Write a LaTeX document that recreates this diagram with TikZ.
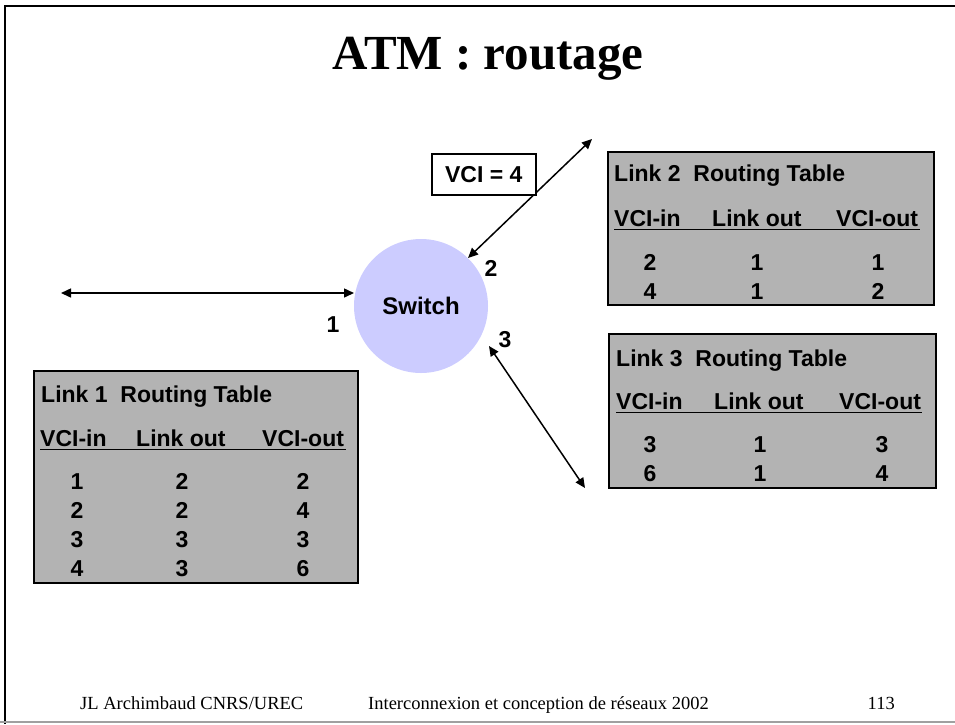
\documentclass[tikz,border=0pt]{standalone}
\usepackage{fontspec}
\setmainfont{Liberation Serif}
\setsansfont{Liberation Sans}
\usetikzlibrary{arrows.meta}
\definecolor{tgray}{HTML}{B3B3B3}
\definecolor{swc}{HTML}{CCCCFF}
\definecolor{footline}{HTML}{A0A0A0}
\begin{document}
\begin{tikzpicture}[x=1pt,y=-1pt,
  tbl/.style={draw=black, line width=1.6pt, fill=tgray, inner sep=0pt, anchor=north west},
  txt/.style={font=\sffamily\bfseries\fontsize{23}{27}\selectfont, inner sep=0pt},
  lbl/.style={txt, anchor=center},
  hd/.style={txt, anchor=base west},
  cell/.style={txt, anchor=base},
  uline/.style={line width=1.6pt},
  link/.style={line width=1.5pt, {Triangle[length=10pt,width=9pt]}-{Triangle[length=10pt,width=9pt]}},
  foot/.style={font=\rmfamily\fontsize{18.5}{22}\selectfont, inner sep=0pt, anchor=base}
]
\useasboundingbox (0,0) rectangle (955,724);
% slide frame
\draw[line width=2pt] (955,6) -- (5,6) -- (5,724);
\draw[line width=2pt, footline] (0,722) -- (955,722);

% title
\node[font=\rmfamily\bfseries\fontsize{49}{56}\selectfont, inner sep=0pt, anchor=base] (title) at (488,69) {ATM : routage};

% switch
\node[circle, fill=swc, minimum size=134pt, inner sep=0pt, font=\sffamily\bfseries\fontsize{24}{28}\selectfont] (sw) at (421,306) {Switch};

% links
\coordinate (l1a) at (61,293);
\coordinate (l1b) at (354,293);
\draw[link] (l1a) -- (l1b);
\coordinate (l2a) at (468,258);
\coordinate (l2b) at (592,139);
\draw[link] (l2a) -- (l2b);
\coordinate (l3a) at (489,346);
\coordinate (l3b) at (585,488);
\draw[link] (l3a) -- (l3b);

% VCI label box
\node[draw=black, line width=1.6pt, fill=white, minimum width=104pt, minimum height=41pt, inner sep=0pt, anchor=north west] (vcibox) at (431,153) {};
\node[txt, font=\sffamily\bfseries\fontsize{23}{27}\selectfont, anchor=center] (vci) at (vcibox.center) {VCI = 4};

% port labels
\node[lbl] (p1) at (333,325) {1};
\node[lbl] (p2) at (491,268) {2};
\node[lbl] (p3) at (505,340) {3};

% Link 1 table
\node[tbl, minimum width=324pt, minimum height=212pt] (t1) at (33,370) {};
\node[hd] (t1t) at (41,402) {Link 1\ \ Routing Table};
\node[hd] (t1h1) at (40,446) {VCI-in};
\node[hd] (t1h2) at (136,446) {Link out};
\node[hd] (t1h3) at (262,446) {VCI-out};
\draw[uline] (40,449.5) -- (346,449.5);
\node[cell] (t1a1) at (77,489) {1};   \node[cell] (t1a2) at (182,489) {2};   \node[cell] (t1a3) at (303,489) {2};
\node[cell] (t1b1) at (77,518) {2};   \node[cell] (t1b2) at (182,518) {2};   \node[cell] (t1b3) at (303,518) {4};
\node[cell] (t1c1) at (77,547) {3};   \node[cell] (t1c2) at (182,547) {3};   \node[cell] (t1c3) at (303,547) {3};
\node[cell] (t1d1) at (77,576) {4};   \node[cell] (t1d2) at (182,576) {3};   \node[cell] (t1d3) at (303,576) {6};

% Link 2 table
\node[tbl, minimum width=326pt, minimum height=153pt] (t2) at (607,151) {};
\node[hd] (t2t) at (614,181) {Link 2\ \ Routing Table};
\node[hd] (t2h1) at (614,226) {VCI-in};
\node[hd] (t2h2) at (712,226) {Link out};
\node[hd] (t2h3) at (836,226) {VCI-out};
\draw[uline] (614,229.5) -- (920,229.5);
\node[cell] (t2a1) at (650,270) {2};   \node[cell] (t2a2) at (757,270) {1};   \node[cell] (t2a3) at (878,270) {1};
\node[cell] (t2b1) at (650,299) {4};   \node[cell] (t2b2) at (757,299) {1};   \node[cell] (t2b3) at (878,299) {2};

% Link 3 table
\node[tbl, minimum width=327pt, minimum height=154pt] (t3) at (608,333) {};
\node[hd] (t3t) at (616,366) {Link 3\ \ Routing Table};
\node[hd] (t3h1) at (616,409) {VCI-in};
\node[hd] (t3h2) at (714,409) {Link out};
\node[hd] (t3h3) at (839,409) {VCI-out};
\draw[uline] (616,412.5) -- (922,412.5);
\node[cell] (t3a1) at (650,452) {3};   \node[cell] (t3a2) at (760,452) {1};   \node[cell] (t3a3) at (882,452) {3};
\node[cell] (t3b1) at (650,481) {6};   \node[cell] (t3b2) at (760,481) {1};   \node[cell] (t3b3) at (882,481) {4};

% footer
\node[foot, anchor=base west] (f1) at (80,709) {JL Archimbaud CNRS/UREC};
\node[foot, anchor=base west] (f2) at (368,709) {Interconnexion et conception de réseaux 2002};
\node[foot, anchor=base east] (f3) at (895,709) {113};
\end{tikzpicture}
\end{document}
